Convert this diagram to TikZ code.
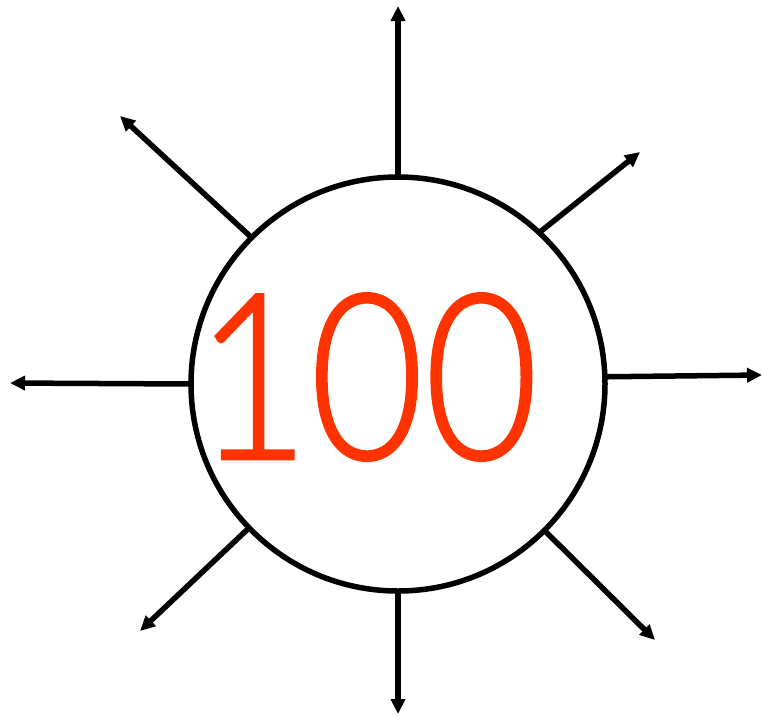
\documentclass[tikz,border=0pt]{standalone}
\usepackage{fontspec}
\newfontfamily\numfont{Lato Light}[FakeBold=1]
\usetikzlibrary{arrows.meta}
\definecolor{numred}{HTML}{FF3300}
\tikzset{
  ray/.style={line width=5.5pt, -{Triangle[length=15pt,width=14pt]}},
  ring/.style={circle, draw, line width=5.5pt, minimum size=414pt, inner sep=0pt, outer sep=0pt}
}
\begin{document}
\begin{tikzpicture}[x=1pt,y=-1pt]
\useasboundingbox (0,0) rectangle (762,716);
\node[ring] (c) at (398,384) {};
\node[text=numred, font=\numfont\fontsize{232}{232}\selectfont, inner sep=0pt, anchor=center] (num) at (367,377) {\scalebox{0.85}[1]{100}};
\coordinate (eT) at (398,6);
\coordinate (eTR) at (640,152);
\coordinate (eR) at (762,375);
\coordinate (eBR) at (655,640);
\coordinate (eB) at (398,714);
\coordinate (eBL) at (140,631);
\coordinate (eL) at (10,383);
\coordinate (eTL) at (120,116);
\draw[ray] (c.90) -- (eT);
\draw[ray] (c.47) -- (eTR);
\draw[ray] (c.2.5) -- (eR);
\draw[ray] (c.-45) -- (eBR);
\draw[ray] (c.-90) -- (eB);
\draw[ray] (c.224) -- (eBL);
\draw[ray] (c.180) -- (eL);
\draw[ray] (c.135) -- (eTL);
\end{tikzpicture}
\end{document}
